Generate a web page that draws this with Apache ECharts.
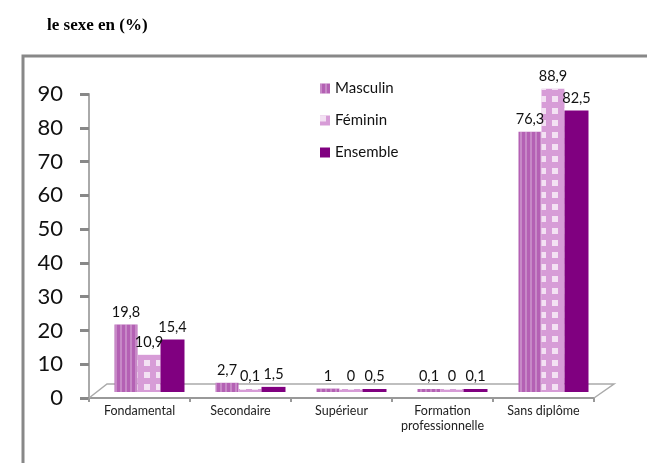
<!DOCTYPE html>
<html><head><meta charset="utf-8">
<script src="https://cdn.jsdelivr.net/npm/echarts@6/dist/echarts.min.js"></script>
<style>html,body{margin:0;padding:0;background:#fff}#c{width:647px;height:463px}</style>
</head><body><div id="c"></div>
<script>
var categories = ['Fondamental', 'Secondaire', 'Supérieur', 'Formation\nprofessionnelle', 'Sans diplôme'];
var masculin = [19.8, 2.7, 1, 0.1, 76.3];
var feminin = [10.9, 0.1, 0, 0, 88.9];
var ensemble = [15.4, 1.5, 0.5, 0.1, 82.5];
var seriesNames = ['Masculin', 'Féminin', 'Ensemble'];
var yTicks = [0, 10, 20, 30, 40, 50, 60, 70, 80, 90];

var chart = echarts.init(document.getElementById('c'));
var fmt = function (p) { return String(p.value).replace('.', ','); };
var lbl = { show: true, position: 'top', distance: 5, fontSize: 14.5, color: '#111', fontFamily: 'Lato', formatter: fmt };
chart.setOption({
  animation: false,
  aria: { enabled: true, decal: { show: false } },
  title: { text: 'le sexe en (%)', left: 42, top: 12,
    textStyle: { fontFamily: 'Liberation Serif', fontWeight: 'bold', fontSize: 17, color: '#000' } },
  legend: { orient: 'vertical', left: 315, top: 76, itemWidth: 10, itemHeight: 10, itemGap: 17,
    icon: 'rect', textStyle: { fontSize: 15, fontFamily: 'Lato', color: '#111' } },
  grid: [
    { left: 89, right: 53, top: 94, bottom: 65 },
    { left: 99, right: 43, top: 85, bottom: 71 }
  ],
  xAxis: [
    { type: 'category', data: categories, gridIndex: 0,
      axisLine: { lineStyle: { color: '#999', width: 2 } },
      axisTick: { show: true, length: 4, lineStyle: { color: '#999', width: 2 } },
      axisLabel: { interval: 0, fontSize: 12.5, color: '#222', fontFamily: 'Lato', margin: 5, lineHeight: 15 } },
    { type: 'category', data: categories, gridIndex: 1, show: false }
  ],
  yAxis: [
    { type: 'value', min: 0, max: 90, interval: 10, gridIndex: 0,
      axisLine: { show: true, lineStyle: { color: '#aaa', width: 2 } },
      axisTick: { show: true, length: 9, lineStyle: { color: '#888', width: 3 } },
      splitLine: { show: false },
      axisLabel: { fontSize: 22, color: '#111', fontFamily: 'Lato', margin: 26,
        formatter: function (v) { return yTicks.indexOf(v) >= 0 ? String(v) : ''; } } },
    { type: 'value', min: 0, max: 90, interval: 10, gridIndex: 1, show: false, splitLine: { show: false } }
  ],
  series: [
    { name: seriesNames[0], type: 'bar', data: masculin, xAxisIndex: 1, yAxisIndex: 1, barWidth: 23, barGap: '0%', barMinHeight: 3,
      itemStyle: { color: '#B461B4', decal: { symbol: 'rect', dashArrayX: [[2, 3]], dashArrayY: [1, 0], rotation: 0, color: 'rgba(255,255,255,0.25)' } },
      label: lbl },
    { name: seriesNames[1], type: 'bar', data: feminin, xAxisIndex: 1, yAxisIndex: 1, barWidth: 23, barMinHeight: 3,
      itemStyle: { color: '#D79CD7', decal: { symbol: 'rect', dashArrayX: [[6, 6]], dashArrayY: [6, 6], rotation: 0, color: 'rgba(255,255,255,0.7)' } },
      label: lbl },
    { name: seriesNames[2], type: 'bar', data: ensemble, xAxisIndex: 1, yAxisIndex: 1, barWidth: 24, barMinHeight: 3,
      itemStyle: { color: '#800080' }, label: lbl }
  ]
});

var p0 = chart.convertToPixel({ gridIndex: 0 }, [0, 0]);
var x0 = 89, y0 = p0[1];
var x1 = 647 - 53;
chart.setOption({
  graphic: [
    { type: 'rect', z: -1, shape: { x: 23, y: 56, width: 700, height: 500 },
      style: { fill: 'none', stroke: '#888', lineWidth: 3 } },
    { type: 'polyline', z: 1, shape: { points: [[x0, y0], [x0 + 18, y0 - 14], [x1 + 20, y0 - 14], [x1, y0]] },
      style: { fill: 'none', stroke: '#aaa', lineWidth: 1.5 } }
  ]
});
</script></body></html>
